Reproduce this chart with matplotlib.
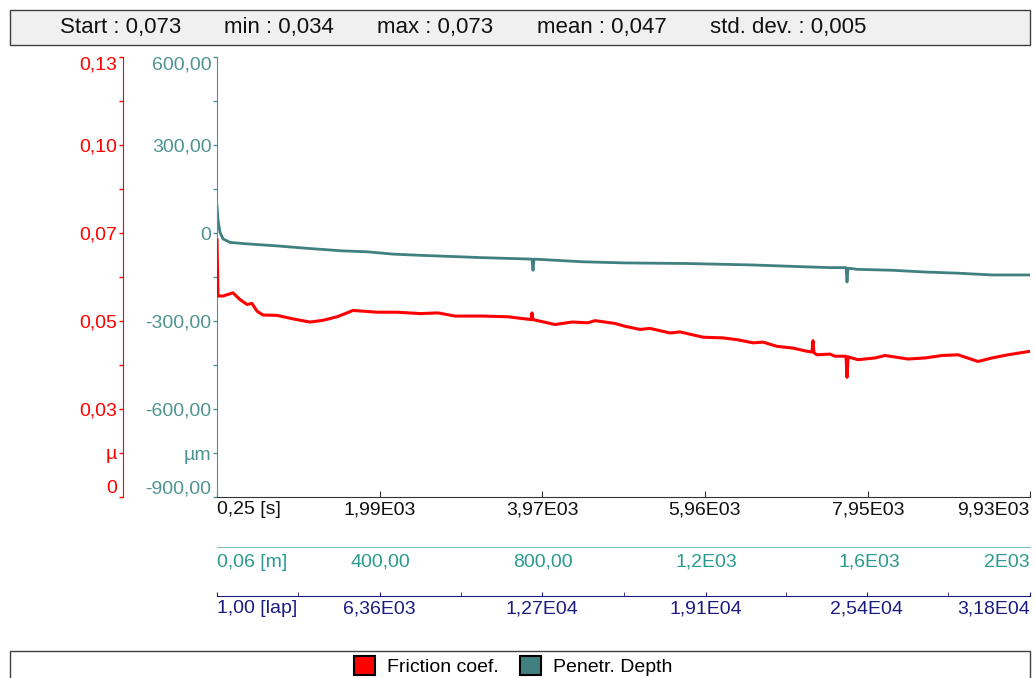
import matplotlib
matplotlib.use('Agg')
import matplotlib.pyplot as plt
from matplotlib.patches import Rectangle, Patch

plt.rcParams['font.family'] = ['Liberation Sans', 'DejaVu Sans']
plt.rcParams['font.size'] = 14

# --- data ---
# penetration depth [um] vs time [s]
depth_t = [0.25, 12, 37, 73, 159, 318, 733, 1136, 1539, 1832, 2150, 2479, 3237, 3847, 3860,
           3872, 4458, 4983, 5741, 6547, 7157, 7487, 7683, 7695, 7708, 7829, 8244, 8648, 9051,
           9466, 9930]
depth_um = [93, 45, 2, -20, -32, -36, -44, -53, -61, -64, -72, -76, -84, -89, -127,
            -89, -98, -102, -104, -109, -115, -118, -118, -167, -120, -124, -127, -133, -137,
            -143, -143]

# friction coefficient vs time [s]
fric_t = [0.25, 12, 73, 195, 281, 366, 427, 489, 562, 733, 928, 1136, 1295, 1466, 1588, 1661,
          1954, 2199, 2479, 2699, 2907, 3237, 3554, 3835, 3847, 3860, 4128, 4336, 4531, 4617,
          4861, 4983, 5167, 5289, 5533, 5655, 5936, 6180, 6351, 6547, 6669, 6840, 7035, 7206,
          7267, 7279, 7291, 7328, 7487, 7548, 7683, 7695, 7708, 7829, 8037, 8159, 8440, 8648,
          8855, 9051, 9295, 9466, 9661, 9930]
fric_mu = [0.073, 0.0571, 0.0571, 0.0580, 0.0561, 0.0547, 0.0550, 0.0528, 0.0517, 0.0516, 0.0506,
           0.0497, 0.0502, 0.0512, 0.0523, 0.0530, 0.0525, 0.0525, 0.0521, 0.0523, 0.0514,
           0.0514, 0.0512, 0.0504, 0.0523, 0.0504, 0.0490, 0.0497, 0.0495, 0.0501, 0.0493,
           0.0485, 0.0476, 0.0479, 0.0466, 0.0469, 0.0454, 0.0452, 0.0447, 0.0438, 0.0440,
           0.0428, 0.0423, 0.0414, 0.0412, 0.0444, 0.0410, 0.0404, 0.0406, 0.0400, 0.0400,
           0.0340, 0.0398, 0.0390, 0.0395, 0.0402, 0.0392, 0.0395, 0.0402, 0.0404, 0.0385,
           0.0395, 0.0404, 0.0414]

# axis ticks / labels
time_ticks = [0.25, 1990, 3970, 5960, 7950, 9930]
time_labels = ['0,25 [s]', '1,99E03', '3,97E03', '5,96E03', '7,95E03', '9,93E03']
dist_ticks = [0.06, 400, 800, 1200, 1600, 1995]
dist_labels = ['0,06 [m]', '400,00', '800,00', '1,2E03', '1,6E03', '2E03']
lap_ticks = [1, 6360, 12700, 19100, 25400, 31780]
lap_labels = ['1,00 [lap]', '6,36E03', '1,27E04', '1,91E04', '2,54E04', '3,18E04']
lap_minor = [3180, 9530, 15900, 22250, 28590]

depth_ticks = [600, 300, 0, -300, -600, -750, -900]
depth_labels = ['600,00', '300,00', '0', '-300,00', '-600,00', 'µm', '-900,00']
depth_minor = [450, 150, -150, -450]
mu_ticks = [0.125, 0.1, 0.075, 0.05, 0.025, 0.0125, 0]
mu_labels = ['0,13', '0,10', '0,07', '0,05', '0,03', 'µ', '0']
mu_minor = [0.1125, 0.0875, 0.0625, 0.0375]

stats = [('Start : 0,073', 60), ('min : 0,034', 224), ('max : 0,073', 377),
         ('mean : 0,047', 537), ('std. dev. : 0,005', 710)]

RED = '#ff0000'
TEAL = '#408080'
TEAL_TXT = '#4f9393'
DIST_C = '#2a9a90'
LAP_C = '#1c1c80'

W, H = 1034, 678
fig = plt.figure(figsize=(W / 100, H / 100), dpi=100)

def fx(px):
    return px / W

def fy(py):
    return 1 - py / H

# main axes (penetration depth)
ax = fig.add_axes([fx(217), fy(497), fx(1030) - fx(217), fy(57) - fy(497)])
ax.plot(depth_t, depth_um, color=TEAL, lw=2.0)
ax.set_xlim(0.25, 9930)
ax.set_ylim(-900, 600)
for s in ['top', 'right']:
    ax.spines[s].set_visible(False)
ax.spines['left'].set_color(TEAL_TXT)
ax.spines['bottom'].set_color('#333333')
ax.set_yticks(depth_ticks)
ax.set_yticklabels(depth_labels)
ax.set_yticks(depth_minor, minor=True)
ax.tick_params(axis='y', which='both', colors=TEAL_TXT, length=3, width=1, pad=1)
ax.set_xticks(time_ticks)
ax.set_xticklabels(time_labels)
ax.tick_params(axis='x', direction='in', length=4, color='#333333', labelcolor='#111111', pad=3)
lbl = ax.get_yticklabels()
lbl[0].set_va('top')
lbl[-1].set_va('bottom')
xl = ax.get_xticklabels()
xl[0].set_ha('left')
xl[-1].set_ha('right')

# friction axis, moved out to the left
axf = ax.twinx()
axf.plot(fric_t, fric_mu, color=RED, lw=2.2)
axf.set_ylim(0, 0.125)
axf.spines['left'].set_position(('outward', 94 * 0.72))
axf.spines['left'].set_visible(True)
axf.spines['left'].set_color(RED)
for s in ['top', 'right', 'bottom']:
    axf.spines[s].set_visible(False)
axf.yaxis.set_ticks_position('left')
axf.set_yticks(mu_ticks)
axf.set_yticklabels(mu_labels)
axf.set_yticks(mu_minor, minor=True)
axf.tick_params(axis='y', which='both', colors=RED, length=3, width=1, pad=1)
lbl = axf.get_yticklabels()
lbl[0].set_va('top')
lbl[-1].set_va('bottom')

# distance axis
axd = ax.twiny()
axd.set_xlim(0.06, 1995)
for s in ['top', 'right', 'left']:
    axd.spines[s].set_visible(False)
axd.xaxis.set_ticks_position('bottom')
axd.spines['bottom'].set_position(('outward', 50 * 0.72))
axd.spines['bottom'].set_color('#7fc0ba')
axd.set_xticks(dist_ticks)
axd.set_xticklabels(dist_labels)
axd.tick_params(axis='x', length=0, labelcolor=DIST_C, pad=5)
xl = axd.get_xticklabels()
xl[0].set_ha('left')
xl[-1].set_ha('right')

# lap axis
axl = ax.twiny()
axl.set_xlim(1, 31780)
for s in ['top', 'right', 'left']:
    axl.spines[s].set_visible(False)
axl.xaxis.set_ticks_position('bottom')
axl.spines['bottom'].set_position(('outward', 99 * 0.72))
axl.spines['bottom'].set_color(LAP_C)
axl.set_xticks(lap_ticks)
axl.set_xticklabels(lap_labels)
axl.set_xticks(lap_minor, minor=True)
axl.tick_params(axis='x', which='both', direction='in', length=3, color=LAP_C,
                labelcolor=LAP_C, pad=3)
xl = axl.get_xticklabels()
xl[0].set_ha('left')
xl[-1].set_ha('right')

# header box with statistics
fig.patches.append(Rectangle((fx(10), fy(45)), fx(1030) - fx(10), fy(10) - fy(45),
                             transform=fig.transFigure, facecolor='#f0f0f0',
                             edgecolor='#404040', lw=1))
for txt, px in stats:
    fig.text(fx(px), fy(28), txt, ha='left', va='center', fontsize=16, color='#111111')

# legend box
fig.patches.append(Rectangle((fx(10), -0.05), fx(1030) - fx(10), fy(651) + 0.05,
                             transform=fig.transFigure, facecolor='white',
                             edgecolor='#404040', lw=1))
handles = [Patch(facecolor=RED, edgecolor='black', lw=1.5, label='Friction coef.'),
           Patch(facecolor=TEAL, edgecolor='black', lw=1.5, label='Penetr. Depth')]
fig.legend(handles=handles, loc='center', bbox_to_anchor=(fx(513), fy(666)), ncol=2,
           frameon=False, handlelength=1.1, handleheight=1.1, handletextpad=0.6,
           columnspacing=1.1, fontsize=14, borderpad=0)

fig.savefig('out.png', dpi=100)
